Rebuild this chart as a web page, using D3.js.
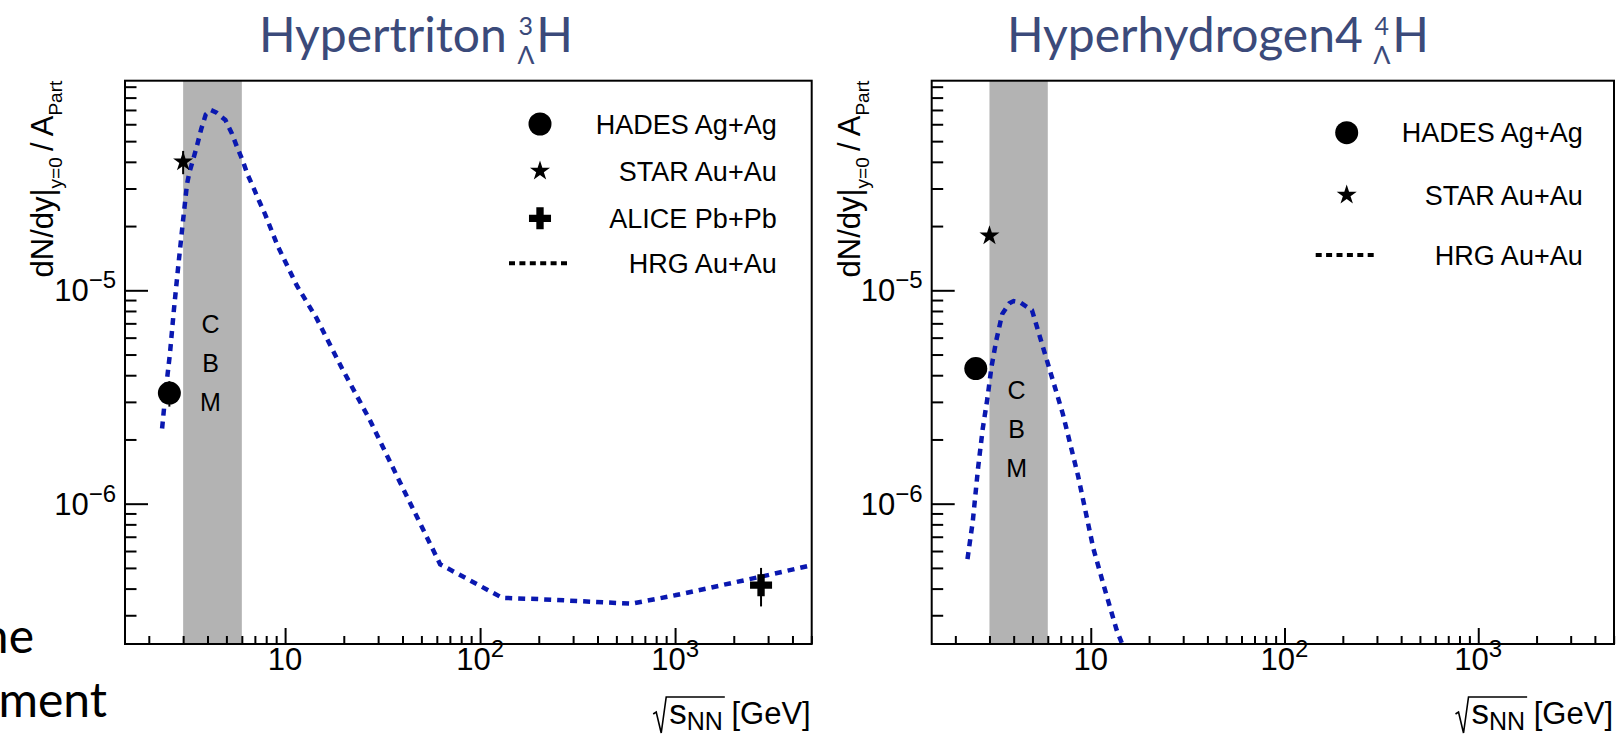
<!DOCTYPE html>
<html>
<head>
<meta charset="utf-8">
<script src="https://cdn.jsdelivr.net/npm/d3@7"></script>
<style>
  html, body { margin: 0; padding: 0; background: #ffffff; }
  svg { display: block; }
</style>
</head>
<body>
<svg id="chart" width="1619" height="737"></svg>
<script>
// ---------------- data ----------------
// shared axis extents: sqrt(s_NN) in GeV and yield per participant
const xDomain = [1.51, 5020];
const yDomain = [2.2e-7, 9.6e-5];
const cbmEnergyRange = [3.0, 6.0];
const cbmLetters = ['C', 'B', 'M'];

const xTickValues = [10, 100, 1000];
const xTickBase = ['10', '10', '10'];
const xTickExp = ['', '2', '3'];
const yTickValues = [1e-6, 1e-5];
const yTickExp = ['\u22126', '\u22125'];

// Hypertriton
const h3HadesEnergy = [2.55];
const h3HadesYield = [3.3e-6];
const h3HadesErr = [0.45e-6];
const h3StarEnergy = [3.0];
const h3StarYield = [4.0e-5];
const h3StarErr = [0.5e-5];
const h3AliceEnergy = [2760];
const h3AliceYield = [4.15e-7];
const h3AliceErr = [0.85e-7];
const h3HrgEnergy = [2.34, 2.44, 2.57, 2.69, 2.83, 2.99, 3.14, 3.23, 3.39, 3.55, 3.71, 3.92, 4.15,
                     4.43, 4.94, 5.33, 5.67, 6.07, 6.41, 6.88, 7.36, 7.9, 9.2, 11.5, 14.5, 19.6,
                     27, 39, 62.4, 130, 200, 600, 1000, 2760, 5020];
const h3HrgYield = [2.25e-6, 3.35e-6, 5.1e-6, 8.1e-6, 1.29e-5, 2.08e-5, 3.14e-5, 3.57e-5, 4.15e-5,
                    4.84e-5, 5.68e-5, 6.67e-5, 7.0e-5, 6.82e-5, 6.28e-5, 5.44e-5, 4.69e-5, 4.04e-5,
                    3.5e-5, 3.03e-5, 2.62e-5, 2.27e-5, 1.6e-5, 1.05e-5, 7.4e-6, 4.3e-6, 2.5e-6,
                    1.25e-6, 5.2e-7, 3.62e-7, 3.57e-7, 3.4e-7, 3.72e-7, 4.55e-7, 5.15e-7];
const h3LegendLabels = ['HADES Ag+Ag', 'STAR Au+Au', 'ALICE Pb+Pb', 'HRG Au+Au'];

// Hyperhydrogen-4
const h4HadesEnergy = [2.55];
const h4HadesYield = [4.3e-6];
const h4HadesErr = [0];
const h4StarEnergy = [3.0];
const h4StarYield = [1.8e-5];
const h4StarErr = [0];
const h4HrgEnergy = [2.31, 2.46, 2.62, 2.77, 2.93, 3.07, 3.25, 3.49, 3.8, 4.0, 4.3, 4.97, 5.97,
                     7.17, 8.6, 10.3, 11.7, 13.6, 15.5];
const h4HrgYield = [5.5e-7, 8.25e-7, 1.47e-6, 2.25e-6, 3.13e-6, 4.35e-6, 5.8e-6, 7.74e-6, 8.69e-6,
                    8.9e-6, 8.8e-6, 8.07e-6, 4.62e-6, 2.64e-6, 1.35e-6, 6.2e-7, 4.1e-7, 2.56e-7, 1.9e-7];
const h4LegendLabels = ['HADES Ag+Ag', 'STAR Au+Au', 'HRG Au+Au'];

// ---------------- styles ----------------
const AXIS_FONT = "'Liberation Sans', Arial, Helvetica, sans-serif";
const SLIDE_FONT = "Lato, 'Open Sans', sans-serif";
const TITLE_COLOR = '#3b4a7a';
const HRG_COLOR = '#0a18b0';
const BAND_COLOR = '#b3b3b3';

const svg = d3.select('#chart');

// ---------------- helpers ----------------
function minorTicks(domain) {
  const out = [];
  const lo = Math.floor(Math.log10(domain[0])), hi = Math.ceil(Math.log10(domain[1]));
  for (let e = lo; e <= hi; e++) {
    for (let m = 2; m <= 9; m++) {
      const v = m * Math.pow(10, e);
      if (v >= domain[0] && v <= domain[1]) out.push(v);
    }
  }
  return out;
}

function marker(g, type, cx, cy) {
  if (type === 'circle') {
    g.append('circle').attr('cx', cx).attr('cy', cy).attr('r', 11.5).attr('fill', '#000');
  } else if (type === 'star') {
    g.append('path').attr('d', d3.symbol(d3.symbolStar, 125)())
      .attr('transform', `translate(${cx},${cy})`).attr('fill', '#000');
  } else if (type === 'cross') {
    g.append('path').attr('d', d3.symbol(d3.symbolCross, 270)())
      .attr('transform', `translate(${cx},${cy})`).attr('fill', '#000');
  }
}

function drawPoints(g, x, y, energy, yieldV, err, type) {
  energy.forEach((e, i) => {
    if (err[i] > 0) {
      g.append('line')
        .attr('x1', x(e)).attr('x2', x(e))
        .attr('y1', y(yieldV[i] + err[i])).attr('y2', y(yieldV[i] - err[i]))
        .attr('stroke', '#000').attr('stroke-width', 2);
    }
    marker(g, type, x(e), y(yieldV[i]));
  });
}

function drawTitle(cx, baseline, main, sup, sub, nucleus) {
  const fs = 48, sfs = 25;
  const g = svg.append('g').attr('fill', TITLE_COLOR).style('font-family', SLIDE_FONT);
  const tMain = g.append('text').attr('font-size', fs).attr('y', baseline).text(main);
  const tSup = g.append('text').attr('font-size', sfs).attr('y', baseline - 0.36 * fs).text(sup);
  const tSub = g.append('text').attr('font-size', sfs).attr('y', baseline + 0.24 * fs).text(sub);
  const tNuc = g.append('text').attr('font-size', fs).attr('y', baseline).text(nucleus);
  const wMain = tMain.node().getComputedTextLength();
  const wScript = Math.max(tSup.node().getComputedTextLength(), tSub.node().getComputedTextLength());
  const wNuc = tNuc.node().getComputedTextLength();
  const gap = 0.22 * fs;
  const total = wMain + gap + wScript + 2 + wNuc;
  const x0 = cx - total / 2;
  tMain.attr('x', x0);
  const sx = x0 + wMain + gap + wScript / 2;
  tSup.attr('x', sx).attr('text-anchor', 'middle');
  tSub.attr('x', sx).attr('text-anchor', 'middle');
  tNuc.attr('x', x0 + wMain + gap + wScript + 2);
}

function drawPanel(cfg) {
  const { left, right, top, bottom } = cfg;
  const x = d3.scaleLog().domain(xDomain).range([left, right]);
  const y = d3.scaleLog().domain(yDomain).range([bottom, top]);
  const g = svg.append('g');

  const clipId = 'clip-' + cfg.id;
  svg.append('clipPath').attr('id', clipId)
    .append('rect').attr('x', left).attr('y', top).attr('width', right - left).attr('height', bottom - top);

  // CBM energy band
  g.append('rect')
    .attr('x', x(cbmEnergyRange[0])).attr('y', top)
    .attr('width', x(cbmEnergyRange[1]) - x(cbmEnergyRange[0]))
    .attr('height', bottom - top)
    .attr('fill', BAND_COLOR);

  const bandMid = x(Math.sqrt(cbmEnergyRange[0] * cbmEnergyRange[1]));
  cbmLetters.forEach((ch, i) => {
    g.append('text')
      .attr('x', bandMid - 2).attr('y', top + cfg.cbmTop + i * 39)
      .attr('text-anchor', 'middle')
      .attr('font-family', AXIS_FONT).attr('font-size', 25)
      .text(ch);
  });

  // axes: ticks point into the frame
  const axX = g.append('g').attr('transform', `translate(0,${bottom})`);
  axX.call(d3.axisBottom(x).tickValues(minorTicks(xDomain)).tickSize(-8).tickFormat(''));
  const axXMaj = g.append('g').attr('transform', `translate(0,${bottom})`);
  axXMaj.call(d3.axisBottom(x).tickValues(xTickValues).tickSize(-16).tickFormat(''));
  const axY = g.append('g').attr('transform', `translate(${left},0)`);
  axY.call(d3.axisLeft(y).tickValues(minorTicks(yDomain)).tickSize(-11.5).tickFormat(''));
  const axYMaj = g.append('g').attr('transform', `translate(${left},0)`);
  axYMaj.call(d3.axisLeft(y).tickValues(yTickValues).tickSize(-23).tickFormat(''));
  [axX, axXMaj, axY, axYMaj].forEach(a => {
    a.select('.domain').remove();
    a.selectAll('line').attr('stroke', '#000').attr('stroke-width', 2);
  });

  // tick labels
  const tickFs = 31, expFs = 24;
  xTickValues.forEach((v, i) => {
    const t = g.append('text')
      .attr('x', x(v)).attr('y', bottom + 26)
      .attr('text-anchor', 'middle')
      .attr('font-family', AXIS_FONT).attr('font-size', tickFs);
    t.append('tspan').text(xTickBase[i]);
    if (xTickExp[i]) t.append('tspan').attr('font-size', expFs).attr('dy', -13).text(xTickExp[i]);
  });
  yTickValues.forEach((v, i) => {
    const t = g.append('text')
      .attr('x', left - 9).attr('y', y(v) + 11)
      .attr('text-anchor', 'end')
      .attr('font-family', AXIS_FONT).attr('font-size', tickFs);
    t.append('tspan').text('10');
    t.append('tspan').attr('font-size', expFs).attr('dy', -13).text(yTickExp[i]);
  });

  // y-axis title
  const yl = g.append('text')
    .attr('transform', `translate(${left - 72},${top}) rotate(-90)`)
    .attr('text-anchor', 'end')
    .attr('font-family', AXIS_FONT).attr('font-size', 31);
  yl.append('tspan').text('dN/dy|');
  yl.append('tspan').attr('font-size', 19).attr('dy', 9).text('y=0');
  yl.append('tspan').attr('dy', -9).text('\u2009/\u2009A');
  yl.append('tspan').attr('font-size', 19).attr('dy', 9).text('Part');

  // x-axis title with radical sign
  const xtFs = 31;
  const base = bottom + 80;
  const xt = g.append('text')
    .attr('x', right - 1).attr('y', base)
    .attr('text-anchor', 'end')
    .attr('font-family', AXIS_FONT).attr('font-size', xtFs);
  xt.append('tspan').attr('font-size', 35).text('s');
  xt.append('tspan').attr('font-size', 25).attr('dy', 6).text('NN');
  xt.append('tspan').attr('dy', -6).text(' [GeV]');
  const xtNode = xt.node();
  const startX = xtNode.getStartPositionOfChar(0).x;
  const endArg = xtNode.getEndPositionOfChar(2).x;
  g.append('path')
    .attr('d', `M${startX - 16},${base - 10} L${startX - 13},${base - 12} L${startX - 8},${base + 9}` +
               ` L${startX - 3},${base - 27} L${endArg + 2},${base - 27}`)
    .attr('fill', 'none').attr('stroke', '#000').attr('stroke-width', 1.6);

  // HRG model curve
  const line = d3.line().x((d, i) => x(cfg.hrgE[i])).y(d => y(d));
  g.append('path')
    .datum(cfg.hrgY)
    .attr('d', line)
    .attr('clip-path', `url(#${clipId})`)
    .attr('fill', 'none')
    .attr('stroke', HRG_COLOR)
    .attr('stroke-width', 4.5)
    .attr('stroke-dasharray', '7,6');

  // measurements
  cfg.points.forEach(p => drawPoints(g, x, y, p.e, p.v, p.err, p.type));

  // frame
  g.append('rect')
    .attr('x', left).attr('y', top).attr('width', right - left).attr('height', bottom - top)
    .attr('fill', 'none').attr('stroke', '#000').attr('stroke-width', 2);

  // legend
  cfg.legendLabels.forEach((lab, i) => {
    const cy = cfg.legendRows[i];
    const type = cfg.legendTypes[i];
    if (type === 'line') {
      g.append('line')
        .attr('x1', cfg.legendMarkerX - 31).attr('x2', cfg.legendMarkerX + 31)
        .attr('y1', cy).attr('y2', cy)
        .attr('stroke', '#000').attr('stroke-width', 4)
        .attr('stroke-dasharray', '6,4.4');
    } else {
      marker(g, type, cfg.legendMarkerX, cy);
    }
    g.append('text')
      .attr('x', cfg.legendTextX).attr('y', cy + 9.5)
      .attr('text-anchor', 'end')
      .attr('font-family', AXIS_FONT).attr('font-size', 27)
      .text(lab);
  });
}

// ---------------- panels ----------------
drawPanel({
  id: 'h3', left: 125, right: 811.7, top: 80.7, bottom: 644,
  cbmTop: 252,
  hrgE: h3HrgEnergy, hrgY: h3HrgYield,
  points: [
    { e: h3HadesEnergy, v: h3HadesYield, err: h3HadesErr, type: 'circle' },
    { e: h3StarEnergy, v: h3StarYield, err: h3StarErr, type: 'star' },
    { e: h3AliceEnergy, v: h3AliceYield, err: h3AliceErr, type: 'cross' }
  ],
  legendLabels: h3LegendLabels,
  legendTypes: ['circle', 'star', 'cross', 'line'],
  legendRows: [124, 171, 218.3, 263.3],
  legendMarkerX: 540, legendTextX: 776.7
});

drawPanel({
  id: 'h4', left: 931.7, right: 1614, top: 80.7, bottom: 644,
  cbmTop: 318,
  hrgE: h4HrgEnergy, hrgY: h4HrgYield,
  points: [
    { e: h4HadesEnergy, v: h4HadesYield, err: h4HadesErr, type: 'circle' },
    { e: h4StarEnergy, v: h4StarYield, err: h4StarErr, type: 'star' }
  ],
  legendLabels: h4LegendLabels,
  legendTypes: ['circle', 'star', 'line'],
  legendRows: [132.7, 195, 255],
  legendMarkerX: 1346.7, legendTextX: 1582.7
});

// ---------------- slide titles and body text ----------------
drawTitle(416, 52, 'Hypertriton', '3', '\u039B', 'H');
drawTitle(1218, 52, 'Hyperhydrogen4', '4', '\u039B', 'H');

svg.append('text').attr('x', 34).attr('y', 653).attr('text-anchor', 'end')
  .attr('font-family', SLIDE_FONT).attr('font-size', 48).attr('fill', '#000').text('the');
svg.append('text').attr('x', 107).attr('y', 717).attr('text-anchor', 'end')
  .attr('font-family', SLIDE_FONT).attr('font-size', 48).attr('fill', '#000').text('ment');
</script>
</body>
</html>
